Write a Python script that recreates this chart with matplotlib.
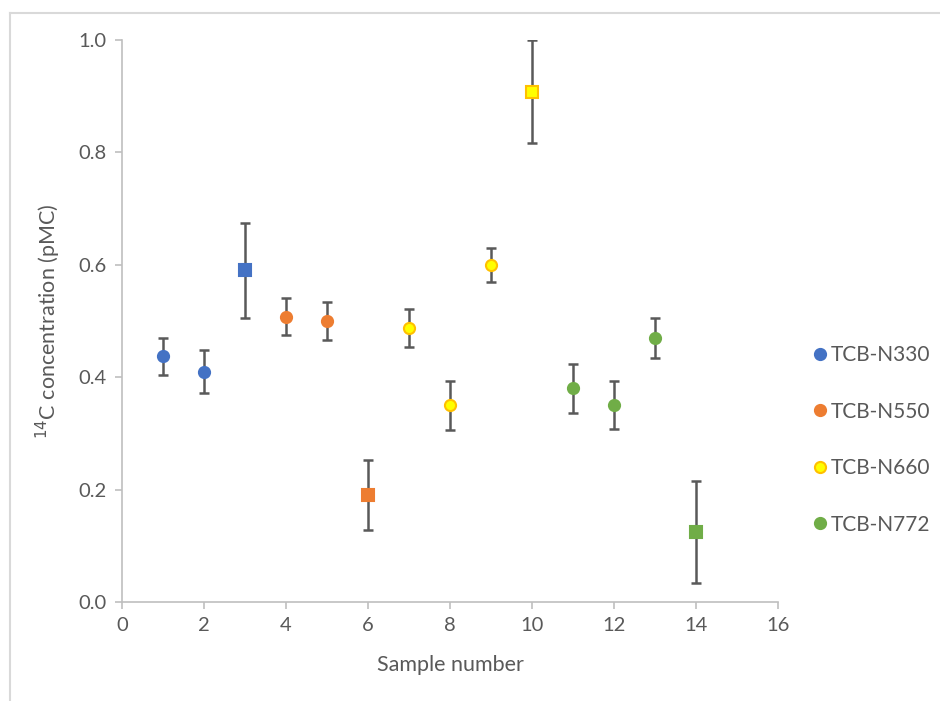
import matplotlib
matplotlib.use("Agg")
import matplotlib.pyplot as plt
from matplotlib.lines import Line2D

plt.rcParams['font.family'] = ['Lato', 'DejaVu Sans']

# data
series = ["TCB-N330", "TCB-N550", "TCB-N660", "TCB-N772"]
samples = [[1, 2, 3], [4, 5, 6], [7, 8, 9, 10], [11, 12, 13, 14]]
conc = [[0.437, 0.410, 0.590], [0.508, 0.500, 0.190],
        [0.488, 0.350, 0.600, 0.908], [0.380, 0.350, 0.470, 0.125]]
err = [[0.033, 0.038, 0.084], [0.033, 0.034, 0.062],
       [0.034, 0.044, 0.030, 0.092], [0.043, 0.043, 0.035, 0.091]]
square_samples = [3, 6, 10, 14]

faces = ["#4472C4", "#ED7D31", "#FFFF00", "#70AD47"]
edges = ["#4472C4", "#ED7D31", "#FFC000", "#70AD47"]
grey = "#595959"
axis_grey = "#BFBFBF"

fig = plt.figure(figsize=(9.40, 7.01), dpi=100)
ax = fig.add_axes([0.1298, 0.1412, 0.6979, 0.8017])

for name, xs, ys, es, fc, ec in zip(series, samples, conc, err, faces, edges):
    ax.errorbar(xs, ys, yerr=es, fmt="none", ecolor=grey, elinewidth=1.8,
                capsize=3.8, capthick=1.8, zorder=2)
    for x, y in zip(xs, ys):
        if x in square_samples:
            ax.plot(x, y, marker="s", markersize=8.2, markerfacecolor=fc,
                    markeredgecolor=ec, markeredgewidth=1.5, linestyle="none", zorder=3)
        else:
            ax.plot(x, y, marker="o", markersize=8, markerfacecolor=fc,
                    markeredgecolor=ec, markeredgewidth=1.5, linestyle="none", zorder=3)

ax.set_xlim(0, 16)
ax.set_ylim(0, 1.0)
ax.set_xticks(range(0, 17, 2))
ax.set_yticks([0.0, 0.2, 0.4, 0.6, 0.8, 1.0])
ax.set_yticklabels(["0.0", "0.2", "0.4", "0.6", "0.8", "1.0"])

for s in ["top", "right"]:
    ax.spines[s].set_visible(False)
for s in ["left", "bottom"]:
    ax.spines[s].set_color(axis_grey)
    ax.spines[s].set_linewidth(1.2)
ax.tick_params(colors=axis_grey, labelcolor=grey, labelsize=14.5, length=5,
               width=1.2, direction="out", pad=6)

ax.set_xlabel("Sample number", fontsize=15.5, color=grey, labelpad=15)
ax.set_ylabel("$^{14}$C concentration (pMC)", fontsize=15.5, color=grey, labelpad=11)

handles = [Line2D([], [], marker="o", linestyle="none", markersize=8,
                  markerfacecolor=fc, markeredgecolor=ec, markeredgewidth=1.5)
           for fc, ec in zip(faces, edges)]
leg = fig.legend(handles, series, loc="center left",
                 bbox_to_anchor=(0.852, 1 - 440 / 701), frameon=False,
                 fontsize=15, labelspacing=1.75, handletextpad=0.05,
                 handlelength=1.0, borderaxespad=0)
for t in leg.get_texts():
    t.set_color(grey)

# light chart-area border (top and left edges visible)
fig.add_artist(Line2D([10 / 940, 10 / 940], [0, 1 - 13 / 701],
                      transform=fig.transFigure, color="#D9D9D9", linewidth=1.5))
fig.add_artist(Line2D([10 / 940, 1], [1 - 13 / 701, 1 - 13 / 701],
                      transform=fig.transFigure, color="#D9D9D9", linewidth=1.5))

fig.savefig("out.png", dpi=100, facecolor="white")
